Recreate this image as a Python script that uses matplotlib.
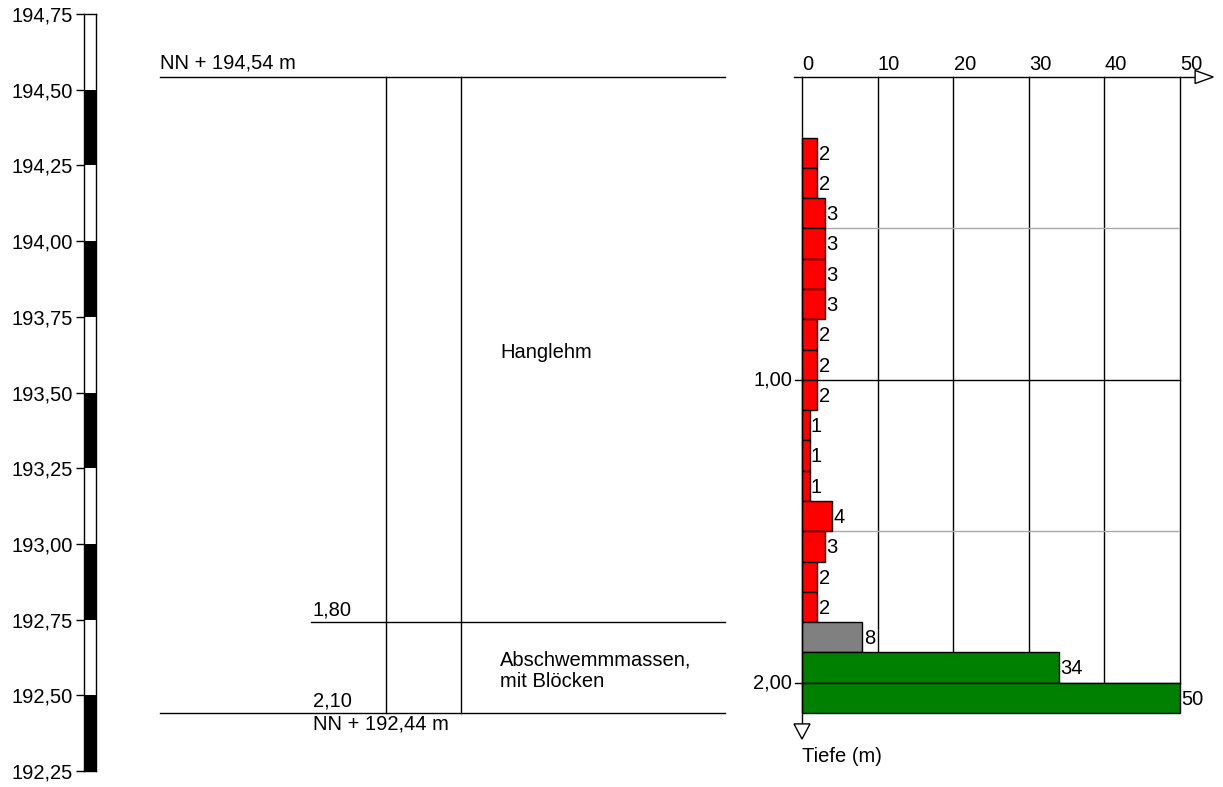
import numpy as np
import matplotlib.pyplot as plt
from matplotlib.patches import Polygon

plt.rcParams['font.family'] = ['Liberation Sans', 'DejaVu Sans']

# elevation scale (left)
scale_ticks = [192.25, 192.50, 192.75, 193.00, 193.25, 193.50, 193.75, 194.00, 194.25, 194.50, 194.75]

# borehole profile
top_elev = 194.54
layer_depths = [0.0, 1.80, 2.10]
layer_names = ["Hanglehm", "Abschwemmmassen,\nmit Blöcken"]

# penetration test: depth of bar top (m), blow counts, colour class
bar_tops = [0.2, 0.3, 0.4, 0.5, 0.6, 0.7, 0.8, 0.9, 1.0, 1.1, 1.2, 1.3, 1.4, 1.5, 1.6, 1.7, 1.8, 1.9, 2.0]
blows = [2, 2, 3, 3, 3, 3, 2, 2, 2, 1, 1, 1, 4, 3, 2, 2, 8, 34, 50]
bar_class = ['r'] * 16 + ['g', 'G', 'G']
bar_h = 0.1
x_ticks = [0, 10, 20, 30, 40, 50]

colors = {'r': '#ff0000', 'g': '#808080', 'G': '#008000'}

W, H = 1223, 787
fig = plt.figure(figsize=(W / 100, H / 100), dpi=100)
FS = 14.5


def px_axes(x0, y0, x1, y1):
    ax = fig.add_axes([x0 / W, 1 - y1 / H, (x1 - x0) / W, (y1 - y0) / H])
    return ax


def fmt(v, n=2):
    return f"{v:.{n}f}".replace('.', ',')


# ---- left elevation scale ----
ax_s = px_axes(84, 14, 96, 771)
ax_s.set_xlim(0, 1)
ax_s.set_ylim(scale_ticks[0], scale_ticks[-1])
for i in range(len(scale_ticks) - 1):
    # black every other segment, starting from the bottom one
    if i % 2 == 0:
        ax_s.axhspan(scale_ticks[i], scale_ticks[i + 1], color='black', lw=0)
ax_s.set_xticks([])
ax_s.set_yticks(scale_ticks)
ax_s.set_yticklabels([fmt(t) for t in scale_ticks], fontsize=FS)
ax_s.tick_params(axis='y', length=6, width=1, pad=2)
for sp in ax_s.spines.values():
    sp.set_linewidth(1)

# ---- borehole profile (middle) ----
ax_p = px_axes(150, 77, 730, 713)
ax_p.set_xlim(150, 730)
ax_p.set_ylim(layer_depths[-1], 0)
ax_p.axis('off')
ax_p.plot([160, 725], [0, 0], color='black', lw=1, clip_on=False)
ax_p.plot([160, 725], [layer_depths[-1]] * 2, color='black', lw=1, clip_on=False)
for d in layer_depths[1:-1]:
    ax_p.plot([311, 725], [d, d], color='black', lw=1, clip_on=False)
for xv in [386, 461]:
    ax_p.plot([xv, xv], [0, layer_depths[-1]], color='black', lw=1, clip_on=False)
ax_p.annotate(f"NN + {fmt(top_elev)} m", (160, 0), xytext=(0, 3), textcoords='offset points',
              ha='left', va='bottom', fontsize=FS)
for d in layer_depths[1:]:
    ax_p.annotate(fmt(d), (313, d), xytext=(0, 2), textcoords='offset points',
                  ha='left', va='bottom', fontsize=FS)
ax_p.annotate(f"NN + {fmt(top_elev - layer_depths[-1])} m", (313, layer_depths[-1]), xytext=(0, -1),
              textcoords='offset points', ha='left', va='top', fontsize=FS)
for name, d0, d1 in zip(layer_names, layer_depths[:-1], layer_depths[1:]):
    ax_p.text(500, (d0 + d1) / 2 + 0.01, name, ha='left', va='center', fontsize=FS, linespacing=1.2)

# ---- penetration chart (right) ----
ax = px_axes(802, 77, 1180, 713)
ax.set_xlim(0, 50)
ax.set_ylim(2.1, 0)
ax.axis('off')

for xv in x_ticks[1:]:
    ax.plot([xv, xv], [0, 2.0], color='black', lw=1, zorder=1, clip_on=False)
for d in [0.5, 1.5]:
    ax.plot([0, 50], [d, d], color='#aaaaaa', lw=1, zorder=1)
for d in [1.0, 2.0]:
    ax.plot([-0.93, 50], [d, d], color='black', lw=1, zorder=1, clip_on=False)
    ax.text(-1.3, d, fmt(d), ha='right', va='center', fontsize=FS)

ax.barh([t + bar_h / 2 for t in bar_tops], blows, height=bar_h, left=0,
        color=[colors[c] for c in bar_class], edgecolor='black', lw=1, zorder=3, clip_on=False)
for t, b in zip(bar_tops, blows):
    ax.annotate(str(b), (b, t + bar_h / 2), xytext=(1, -1), textcoords='offset points',
                ha='left', va='center', fontsize=FS, zorder=4, annotation_clip=False)

# top axis with arrow
ax.plot([-1.06, 52], [0, 0], color='black', lw=1, clip_on=False, zorder=5)
ax.add_patch(Polygon([[52, -0.0215], [54.4, 0], [52, 0.0215]], closed=True, fc='white', ec='black',
                     lw=1, clip_on=False, zorder=5))
for xt in x_ticks:
    ax.text(xt + 0.05, -0.01, str(xt), ha='left', va='bottom', fontsize=FS)

# depth axis with arrow
ax.plot([0, 0], [0, 2.136], color='black', lw=1, clip_on=False, zorder=5)
ax.add_patch(Polygon([[-1.06, 2.136], [1.06, 2.136], [0, 2.186]], closed=True, fc='white', ec='black',
                     lw=1, clip_on=False, zorder=5))
ax.text(0, 2.245, "Tiefe (m)", ha='left', va='center', fontsize=FS)

fig.savefig('out.png', dpi=100)
